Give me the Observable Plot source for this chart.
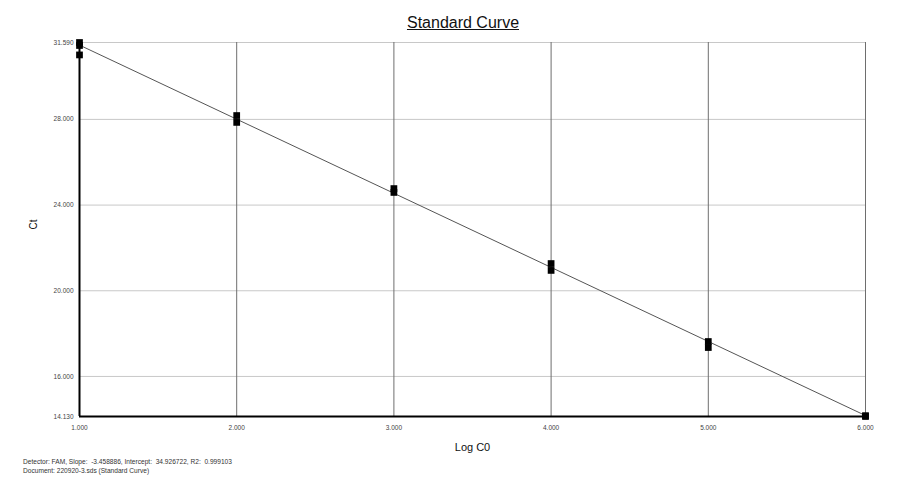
<!DOCTYPE html>
<html>
<head>
<meta charset="utf-8">
<script src="https://cdn.jsdelivr.net/npm/d3@7"></script>
<script src="https://cdn.jsdelivr.net/npm/@observablehq/plot@0.6"></script>
<style>
  body { margin: 0; background: #fff; font-family: "Liberation Sans", Arial, sans-serif; }
  #wrap { position: relative; width: 900px; height: 500px; }
  #title { position: absolute; top: 14px; left: 0; width: 926px; text-align: center; font-size: 16px; text-decoration: underline; color: #111; }
  #chart { position: absolute; top: 34px; left: 0; }
  #foot { position: absolute; top: 457px; left: 23px; font-size: 6.6px; line-height: 9px; color: #333; }
</style>
</head>
<body>
<div id="wrap">
  <div id="title">Standard Curve</div>
  <div id="chart"></div>
  <div id="foot">Detector: FAM, Slope:&nbsp; -3.458886, Intercept:&nbsp; 34.926722, R2:&nbsp; 0.999103<br>Document: 220920-3.sds (Standard Curve)</div>
</div>
<script>
// Standard points (Log C0, Ct)
const logC0 = [1, 1, 1, 2, 2, 3, 3, 4, 4, 5, 5, 6, 6];
const ct    = [31.59, 31.45, 31.01, 28.18, 27.86, 24.77, 24.59, 21.27, 20.95, 17.63, 17.35, 14.17, 14.13];

// Fitted standard curve endpoints
const fitX = [1, 6];
const fitY = [31.468, 14.174];

// Axis ticks
const xTicks = [1, 2, 3, 4, 5, 6];
const yTicks = [14.13, 16, 20, 24, 28, 31.59];
const yGrid = [16, 20, 24, 28, 31.59];
const xGrid = [2, 3, 4, 5, 6];

const points = logC0.map((x, i) => ({x, y: ct[i]}));
const fit = fitX.map((x, i) => ({x, y: fitY[i]}));

const chart = Plot.plot({
  width: 900,
  height: 420,
  marginLeft: 79,
  marginRight: 35,
  marginTop: 8,
  marginBottom: 38,
  style: { fontFamily: "Liberation Sans, Arial, sans-serif", background: "#fff" },
  x: { domain: [1, 6] },
  y: { domain: [14.13, 31.59] },
  marks: [
    Plot.ruleY(yGrid, { stroke: "#c8c8c8", strokeWidth: 1 }),
    Plot.ruleX(xGrid, { stroke: "#6e6e6e", strokeWidth: 1 }),
    Plot.line(fit, { x: "x", y: "y", stroke: "#555", strokeWidth: 1 }),
    Plot.ruleX([1], { stroke: "#000", strokeWidth: 2 }),
    Plot.ruleY([14.13], { stroke: "#000", strokeWidth: 2 }),
    Plot.dot(points, { x: "x", y: "y", symbol: "square", r: 3.8, fill: "#000", stroke: "none" }),
    Plot.axisX(xTicks, { tickSize: 0, tickPadding: 9, tickFormat: d3.format(".3f"), fontSize: 6.5, fill: "#444",
      label: "Log C0", labelAnchor: "center", labelArrow: "none", labelOffset: 34 }),
    Plot.axisY(yTicks, { tickSize: 0, tickPadding: 6, tickFormat: d3.format(".3f"), fontSize: 6.5, fill: "#444",
      label: null }),
    Plot.text(["Ct"], { frameAnchor: "left", dx: -46, rotate: -90, fontSize: 10, fill: "#111" })
  ]
});
chart.querySelectorAll("[aria-label='x-axis label']").forEach(g => { g.setAttribute("font-size", "11"); g.setAttribute("fill", "#111"); });
document.getElementById("chart").append(chart);
</script>
</body>
</html>
